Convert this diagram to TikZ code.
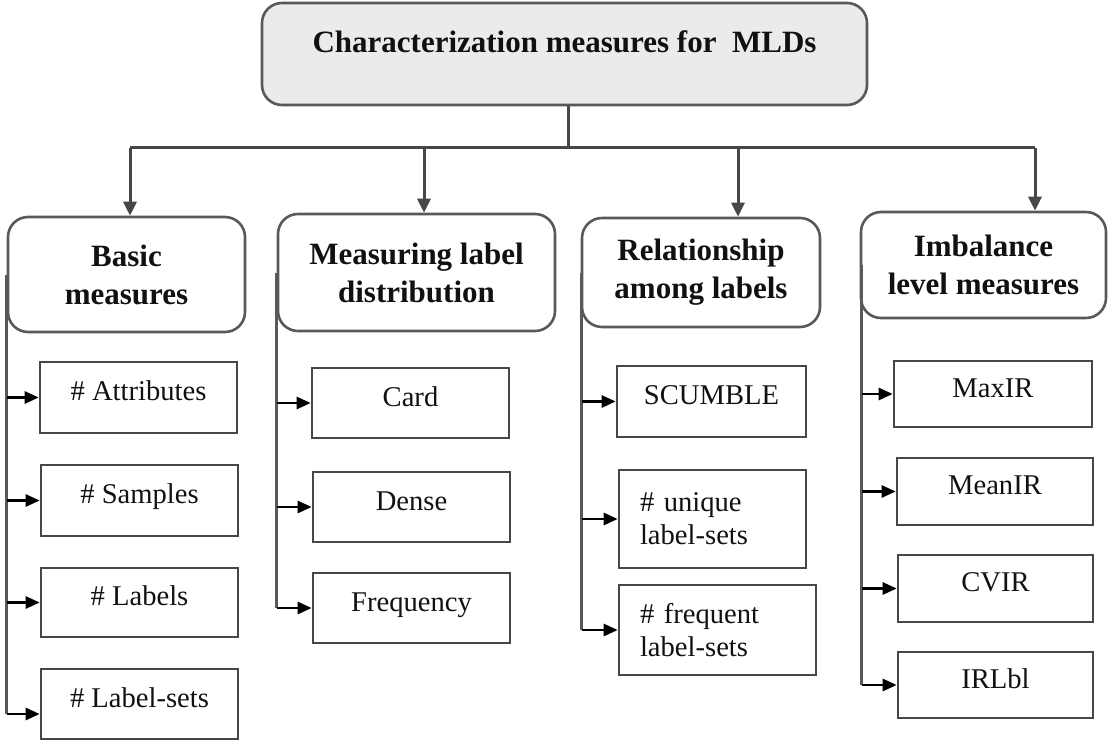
\documentclass[tikz,border=0pt]{standalone}
\usepackage{fontspec}
\setmainfont{Liberation Serif}
\usetikzlibrary{arrows.meta}

\definecolor{edgegray}{HTML}{595959}
\definecolor{linkgray}{HTML}{474747}
\definecolor{titlefill}{HTML}{EBEBEB}
\definecolor{ink}{HTML}{111111}

\tikzset{
  titlebox/.style={draw=edgegray, line width=2.6pt, fill=titlefill, rounded corners=20pt,
    inner sep=0pt, text=ink, font=\fontsize{31pt}{38pt}\selectfont\bfseries,
    text height=22pt, text depth=24pt},
  groupbox/.style={draw=edgegray, line width=2.6pt, fill=white, rounded corners=20pt,
    inner sep=0pt, align=center, text=ink, font=\fontsize{31pt}{38pt}\selectfont\bfseries},
  itembox/.style={draw=edgegray!80!black, line width=2.6pt, fill=white, inner sep=0pt,
    text=ink, font=\fontsize{28.6pt}{33pt}\selectfont,
    text height=20pt, text depth=14pt},
  itemtwo/.style={draw=edgegray!80!black, line width=2.6pt, fill=white, inner xsep=21pt,
    inner ysep=0pt, align=left, text=ink, font=\fontsize{28.6pt}{33pt}\selectfont},
  bus/.style={draw=linkgray, line width=3pt},
  down/.style={bus, -{Triangle[length=14pt,width=13pt]}},
  feed/.style={draw=black, line width=2.6pt, -{Triangle[length=14pt,width=12pt]}},
  rail/.style={draw=edgegray, line width=2.6pt}
}

\begin{document}
\begin{tikzpicture}[x=1pt,y=-1pt]
  \useasboundingbox (0,0) rectangle (1109,749);

  % root
  \node[titlebox, minimum width=605pt, minimum height=102pt] (root) at (564.5,54)
    {Characterization measures for~ MLDs};

  % groups
  \node[groupbox, minimum width=237pt, minimum height=115pt] (basic) at (126.5,274.5)
    {Basic\\measures};
  \node[groupbox, minimum width=277pt, minimum height=117pt] (dist) at (416.5,272.5)
    {Measuring label\\distribution};
  \node[groupbox, minimum width=238pt, minimum height=109pt] (rel) at (701,272.5)
    {Relationship\\among labels};
  \node[groupbox, minimum width=245pt, minimum height=106pt] (imb) at (983.5,265)
    {Imbalance\\level measures};

  % bus from the root to the four groups
  \coordinate (j)  at (568,148);
  \coordinate (b1) at (130,148);
  \coordinate (b2) at (424,148);
  \coordinate (b3) at (738,148);
  \coordinate (b4) at (1035,148);
  \draw[bus] (j |- root.south) -- (j);
  \draw[bus] (b1) -- (b4);
  \draw[down] (b1) -- (b1 |- basic.north);
  \draw[down] (b2) -- (b2 |- dist.north);
  \draw[down] (b3) -- (b3 |- rel.north);
  \draw[down] (b4) -- (b4 |- imb.north);

  % basic measures
  \node[itembox, minimum width=197pt, minimum height=71pt] (attr) at (138.5,397.5) {\# Attributes};
  \node[itembox, minimum width=197pt, minimum height=71pt] (samp) at (139.5,500.5) {\# Samples};
  \node[itembox, minimum width=197pt, minimum height=69pt] (labs) at (139.5,602.5) {\# Labels};
  \node[itembox, minimum width=197pt, minimum height=70pt] (lsets) at (139.5,704) {\# Label-sets};
  \coordinate (lsin) at ([yshift=-10pt]lsets.west);
  \draw[rail] (basic.west) -- (basic.west |- lsin);
  \draw[feed] (basic.west |- attr.west) -- (attr.west);
  \draw[feed] (basic.west |- samp.west) -- (samp.west);
  \draw[feed] (basic.west |- labs.west) -- (labs.west);
  \draw[feed] (basic.west |- lsin) -- (lsin);

  % label distribution
  \node[itembox, minimum width=197pt, minimum height=70pt] (card) at (410.5,403) {Card};
  \node[itembox, minimum width=197pt, minimum height=70pt] (dens) at (411.5,507) {Dense};
  \node[itembox, minimum width=197pt, minimum height=70pt] (freq) at (411.5,608) {Frequency};
  \draw[rail] (dist.west) -- (dist.west |- freq.west);
  \draw[feed] (dist.west |- card.west) -- (card.west);
  \draw[feed] (dist.west |- dens.west) -- (dens.west);
  \draw[feed] (dist.west |- freq.west) -- (freq.west);

  % relationship among labels
  \node[itembox, minimum width=189pt, minimum height=71pt] (scum) at (711.5,401.5) {SCUMBLE};
  \node[itemtwo, text width=145pt, minimum height=98pt] (uniq) at (712.5,519)
    {\# unique\\label-sets};
  \node[itemtwo, text width=155pt, minimum height=90pt] (freqls) at (717.5,630)
    {\# frequent\\label-sets};
  \draw[rail] ([xshift=1pt]rel.west) -- ([xshift=1pt]rel.west |- freqls.west);
  \draw[feed] ([xshift=1pt]rel.west |- scum.west) -- (scum.west);
  \draw[feed] ([xshift=1pt]rel.west |- uniq.west) -- (uniq.west);
  \draw[feed] ([xshift=1pt]rel.west |- freqls.west) -- (freqls.west);

  % imbalance level measures
  \node[itembox, minimum width=198pt, minimum height=66pt] (maxir) at (993,394) {MaxIR};
  \node[itembox, minimum width=196pt, minimum height=67pt] (meanir) at (995,491.5) {MeanIR};
  \node[itembox, minimum width=195pt, minimum height=67pt] (cvir) at (995.5,588.5) {CVIR};
  \node[itembox, minimum width=195pt, minimum height=66pt] (irlbl) at (995.5,685) {IRLbl};
  \draw[rail] ([xshift=2pt]imb.west) -- ([xshift=2pt]imb.west |- irlbl.west);
  \draw[feed] ([xshift=2pt]imb.west |- maxir.west) -- (maxir.west);
  \draw[feed] ([xshift=2pt]imb.west |- meanir.west) -- (meanir.west);
  \draw[feed] ([xshift=2pt]imb.west |- cvir.west) -- (cvir.west);
  \draw[feed] ([xshift=2pt]imb.west |- irlbl.west) -- (irlbl.west);
\end{tikzpicture}
\end{document}
